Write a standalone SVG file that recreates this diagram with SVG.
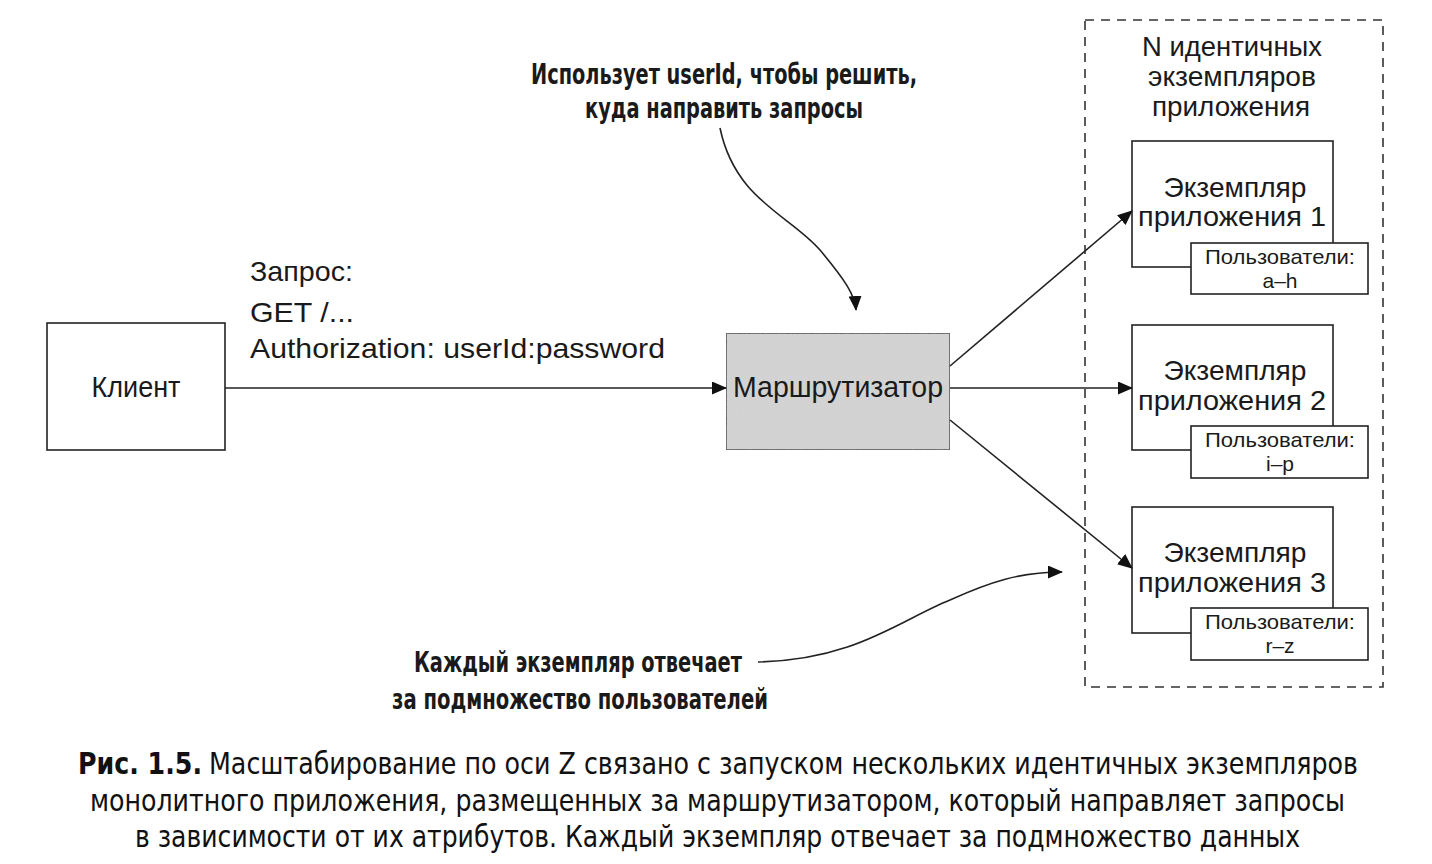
<svg xmlns="http://www.w3.org/2000/svg" width="1432" height="864" viewBox="0 0 1432 864">
<defs>
<marker id="arr" markerWidth="15" markerHeight="13" refX="14" refY="6.5" orient="auto" markerUnits="userSpaceOnUse">
<path d="M0,0 L15,6.5 L0,13 Z" fill="#111"/>
</marker>
<filter id="grain" x="0" y="0" width="100%" height="100%">
<feTurbulence type="fractalNoise" baseFrequency="0.9" numOctaves="2" seed="3" result="n"/>
<feColorMatrix in="n" type="matrix" values="0 0 0 0 0.55  0 0 0 0 0.55  0 0 0 0 0.55  0 0 0 0.35 0" result="g"/>
<feComposite in="g" in2="SourceGraphic" operator="in" result="gc"/>
<feMerge><feMergeNode in="SourceGraphic"/><feMergeNode in="gc"/></feMerge>
</filter>
</defs>
<style>
.box{fill:#fff;stroke:#222;stroke-width:1.6}
.t{font-family:"Liberation Sans",Arial,sans-serif;fill:#1a1a1a}
.c{text-anchor:middle}
.note{font-family:"DejaVu Sans Condensed","Liberation Sans",sans-serif;font-weight:bold;fill:#1a1a1a}
.cap{font-family:"DejaVu Sans Condensed","Liberation Sans",sans-serif;fill:#111}
.ln{fill:none;stroke:#222;stroke-width:1.6}
</style>
<rect width="1432" height="864" fill="#fff"/>

<g id="container">
<rect x="1085" y="20" width="298" height="667" fill="none" stroke="#333" stroke-width="1.6" stroke-dasharray="9,7"/>
<text class="t c" x="1232" y="56" font-size="27" textLength="180" lengthAdjust="spacingAndGlyphs">N идентичных</text>
<text class="t c" x="1232" y="86" font-size="27" textLength="168" lengthAdjust="spacingAndGlyphs">экземпляров</text>
<text class="t c" x="1231" y="116" font-size="27" textLength="158" lengthAdjust="spacingAndGlyphs">приложения</text>
</g>

<g id="client">
<rect class="box" x="47" y="323" width="178" height="127"/>
<text class="t c" x="136" y="397" font-size="29" textLength="89" lengthAdjust="spacingAndGlyphs">Клиент</text>
</g>

<g id="request-label">
<text class="t" x="250" y="281" font-size="28" textLength="103" lengthAdjust="spacingAndGlyphs">Запрос:</text>
<text class="t" x="250" y="322" font-size="28" textLength="104" lengthAdjust="spacingAndGlyphs">GET /...</text>
<text class="t" x="250" y="358" font-size="28" textLength="415" lengthAdjust="spacingAndGlyphs">Authorization: userId:password</text>
</g>

<g id="router">
<rect x="726" y="333" width="224" height="117" fill="#d6d6d6" stroke="#333" stroke-width="1.6" filter="url(#grain)"/>
<text class="t c" x="838" y="397" font-size="29" textLength="210" lengthAdjust="spacingAndGlyphs">Маршрутизатор</text>
</g>

<g id="instance1">
<rect class="box" x="1132" y="141" width="201" height="126"/>
<text class="t c" x="1235" y="197" font-size="28" textLength="143" lengthAdjust="spacingAndGlyphs">Экземпляр</text>
<text class="t c" x="1232" y="226" font-size="28" textLength="188" lengthAdjust="spacingAndGlyphs">приложения 1</text>
<rect class="box" x="1191" y="243" width="177" height="51"/>
<text class="t c" x="1280" y="264" font-size="21" textLength="150" lengthAdjust="spacingAndGlyphs">Пользователи:</text>
<text class="t c" x="1280" y="288" font-size="21">a–h</text>
</g>

<g id="instance2">
<rect class="box" x="1132" y="325" width="201" height="125"/>
<text class="t c" x="1235" y="380" font-size="28" textLength="143" lengthAdjust="spacingAndGlyphs">Экземпляр</text>
<text class="t c" x="1232" y="410" font-size="28" textLength="188" lengthAdjust="spacingAndGlyphs">приложения 2</text>
<rect class="box" x="1191" y="426" width="177" height="52"/>
<text class="t c" x="1280" y="447" font-size="21" textLength="150" lengthAdjust="spacingAndGlyphs">Пользователи:</text>
<text class="t c" x="1280" y="471" font-size="21">i–p</text>
</g>

<g id="instance3">
<rect class="box" x="1132" y="507" width="201" height="126"/>
<text class="t c" x="1235" y="562" font-size="28" textLength="143" lengthAdjust="spacingAndGlyphs">Экземпляр</text>
<text class="t c" x="1232" y="592" font-size="28" textLength="188" lengthAdjust="spacingAndGlyphs">приложения 3</text>
<rect class="box" x="1191" y="608" width="177" height="52"/>
<text class="t c" x="1280" y="629" font-size="21" textLength="150" lengthAdjust="spacingAndGlyphs">Пользователи:</text>
<text class="t c" x="1280" y="653" font-size="21">r–z</text>
</g>

<g id="connectors">
<line class="ln" x1="225" y1="388" x2="726" y2="388" marker-end="url(#arr)"/>
<line class="ln" x1="950" y1="366" x2="1132" y2="211" marker-end="url(#arr)"/>
<line class="ln" x1="950" y1="388" x2="1132" y2="388" marker-end="url(#arr)"/>
<line class="ln" x1="950" y1="420" x2="1132" y2="568" marker-end="url(#arr)"/>
<path class="ln" d="M720,128 C735,200 790,215 820,250 C845,280 855,295 856,310" marker-end="url(#arr)"/>
<path class="ln" d="M758,662 C855,660 900,620 950,600 C990,582 1020,572 1062,572" marker-end="url(#arr)"/>
</g>

<g id="notes">
<text class="note c" x="724" y="84" font-size="28" textLength="386" lengthAdjust="spacingAndGlyphs">Использует userId, чтобы решить,</text>
<text class="note c" x="724" y="118" font-size="28" textLength="278" lengthAdjust="spacingAndGlyphs">куда направить запросы</text>
<text class="note" x="414" y="672" font-size="28" textLength="328" lengthAdjust="spacingAndGlyphs">Каждый экземпляр отвечает</text>
<text class="note" x="392" y="709" font-size="28" textLength="376" lengthAdjust="spacingAndGlyphs">за подмножество пользователей</text>
</g>

<g id="caption">
<text class="cap" x="78" y="774" font-size="30" font-weight="bold" textLength="124" lengthAdjust="spacingAndGlyphs">Рис. 1.5.</text>
<text class="cap" x="209" y="774" font-size="30" textLength="1149" lengthAdjust="spacingAndGlyphs">Масштабирование по оси Z связано с запуском нескольких идентичных экземпляров</text>
<text class="cap" x="90" y="811" font-size="30" textLength="1255" lengthAdjust="spacingAndGlyphs">монолитного приложения, размещенных за маршрутизатором, который направляет запросы</text>
<text class="cap" x="135" y="847" font-size="30" textLength="1165" lengthAdjust="spacingAndGlyphs">в зависимости от их атрибутов. Каждый экземпляр отвечает за подмножество данных</text>
</g>
</svg>
